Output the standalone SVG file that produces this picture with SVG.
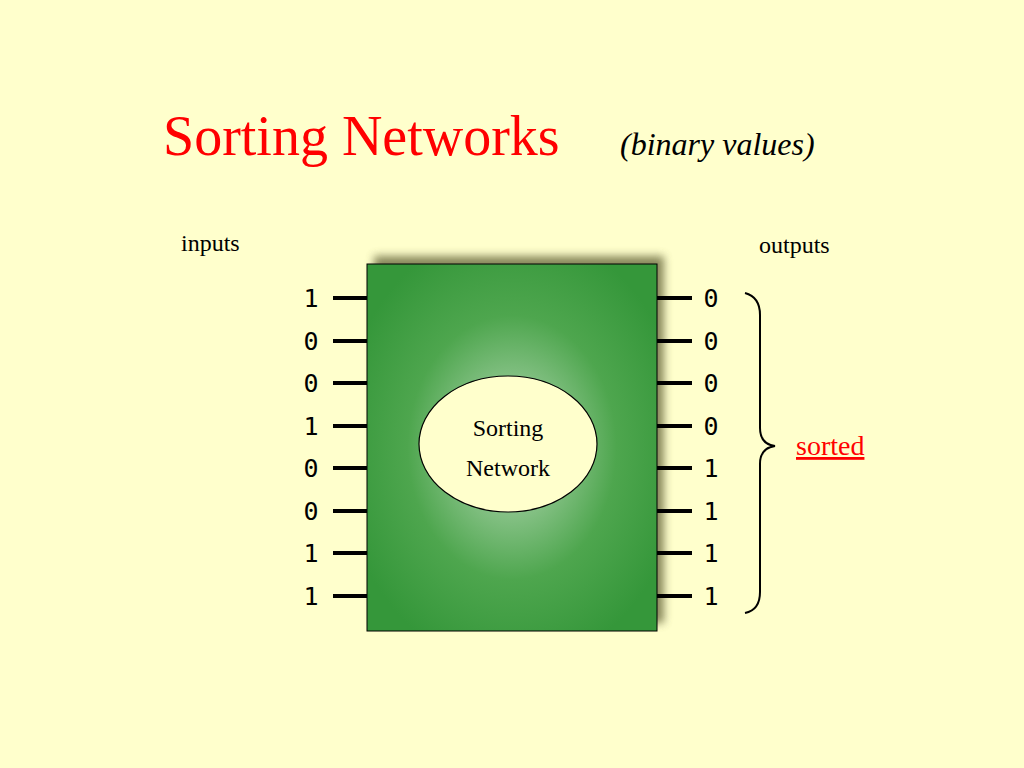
<svg xmlns="http://www.w3.org/2000/svg" width="1024" height="768" viewBox="0 0 1024 768">
<style>
.num{font-family:"DejaVu Sans Mono","Liberation Mono",monospace;font-size:25px;fill:#000;text-anchor:middle}
.wire{stroke:#000;stroke-width:4}
.lbl{font-family:"Liberation Serif",serif;font-size:24px;fill:#000}
</style>
<defs>
<radialGradient id="g" cx="0.5" cy="0.5" r="0.6">
<stop offset="0" stop-color="#b5dcb5"/>
<stop offset="0.25" stop-color="#8fc68f"/>
<stop offset="0.6" stop-color="#4ea64e"/>
<stop offset="1" stop-color="#35973a"/>
</radialGradient>
<filter id="sh" x="-20%" y="-20%" width="140%" height="140%"><feGaussianBlur stdDeviation="4"/></filter>
</defs>
<rect width="1024" height="768" fill="#ffffcc"/>
<text x="163" y="155" font-family="Liberation Serif,serif" font-size="56" fill="#ff0000">Sorting Networks</text>
<text x="620" y="155" font-family="Liberation Serif,serif" font-size="32" font-style="italic" fill="#000">(binary values)</text>
<text x="181" y="251" class="lbl">inputs</text>
<text x="759" y="253" class="lbl">outputs</text>
<g id="box">
<rect x="374" y="256" width="290" height="367" fill="#6b6b40" opacity="0.8" filter="url(#sh)"/>
<rect x="367" y="264" width="290" height="367" fill="url(#g)" stroke="#000" stroke-width="1"/>
</g>
<g id="core">
<ellipse cx="508" cy="444" rx="89" ry="68" fill="#ffffcc" stroke="#000" stroke-width="1.2"/>
<text x="508" y="436" class="lbl" font-size="28" text-anchor="middle">Sorting</text>
<text x="508" y="476" class="lbl" font-size="28" text-anchor="middle">Network</text>
</g>
<g id="connectors">
<path class="wire" d="M333 298H367M333 341H367M333 383H367M333 426H367M333 468H367M333 511H367M333 553H367M333 596H367M657 298H692M657 341H692M657 383H692M657 426H692M657 468H692M657 511H692M657 553H692M657 596H692"/>
<path d="M745 293 Q760 297 760 315 L760 428 Q760 444 775 446 Q760 448 760 464 L760 592 Q760 610 745 613" fill="none" stroke="#000" stroke-width="2"/>
</g>
<g id="inputs">
<text x="311" y="307" class="num">1</text><text x="311" y="350" class="num">0</text><text x="311" y="392" class="num">0</text><text x="311" y="435" class="num">1</text><text x="311" y="477" class="num">0</text><text x="311" y="520" class="num">0</text><text x="311" y="562" class="num">1</text><text x="311" y="605" class="num">1</text>
</g>
<g id="outputs">
<text x="711" y="307" class="num">0</text><text x="711" y="350" class="num">0</text><text x="711" y="392" class="num">0</text><text x="711" y="435" class="num">0</text><text x="711" y="477" class="num">1</text><text x="711" y="520" class="num">1</text><text x="711" y="562" class="num">1</text><text x="711" y="605" class="num">1</text>
</g>
<g id="sorted">
<text x="796" y="455" font-family="Liberation Serif,serif" font-size="28" fill="#ff0000" text-decoration="underline">sorted</text>
</g>
</svg>
